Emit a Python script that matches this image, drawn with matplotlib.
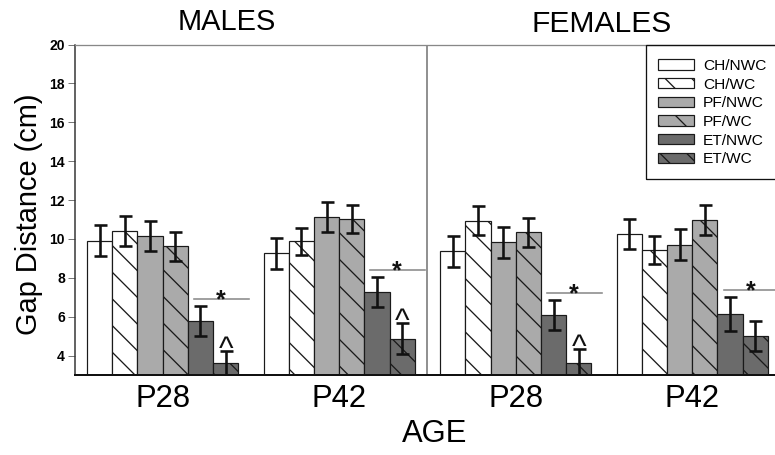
import matplotlib
matplotlib.use("Agg")
import matplotlib.pyplot as plt
from matplotlib.patches import Rectangle
import numpy as np

DPI = 80
W, H = 775, 455


def pt(px):
    return px * 72.0 / DPI


plt.rcParams["font.family"] = ["Liberation Sans", "DejaVu Sans"]
plt.rcParams["hatch.linewidth"] = pt(1.3)

# ---------------- data ----------------
panels = ["MALES", "FEMALES"]
ages = ["P28", "P42", "P28", "P42"]
series = ["CH/NWC", "CH/WC", "PF/NWC", "PF/WC", "ET/NWC", "ET/WC"]

ch_nwc = [9.90, 9.27, 9.37, 10.26]
ch_wc = [10.42, 9.87, 10.93, 9.44]
pf_nwc = [10.13, 11.12, 9.82, 9.70]
pf_wc = [9.61, 11.02, 10.35, 10.95]
et_nwc = [5.78, 7.28, 6.09, 6.14]
et_wc = [3.60, 4.87, 3.63, 5.02]

ch_nwc_err = [0.80, 0.80, 0.79, 0.76]
ch_wc_err = [0.77, 0.69, 0.74, 0.72]
pf_nwc_err = [0.77, 0.76, 0.78, 0.80]
pf_wc_err = [0.74, 0.74, 0.75, 0.77]
et_nwc_err = [0.77, 0.78, 0.77, 0.86]
et_wc_err = [0.65, 0.79, 0.69, 0.78]

star_groups = [0, 1, 2, 3]      # '*' : ET/NWC vs others
caret_groups = [0, 1, 2]        # '^' above ET/WC

values = [ch_nwc, ch_wc, pf_nwc, pf_wc, et_nwc, et_wc]
errors = [ch_nwc_err, ch_wc_err, pf_nwc_err, pf_wc_err, et_nwc_err, et_wc_err]

# ---------------- style ----------------
colors = ["white", "white", "#aaaaaa", "#aaaaaa", "#6b6b6b", "#6b6b6b"]
hatches = [None, "\\", None, "\\", None, "\\"]

fig = plt.figure(figsize=(W / DPI, H / DPI), dpi=DPI)
fig.patch.set_facecolor("white")
ax_left, ax_right, ax_top, ax_bottom = 75, 775, 44.5, 375
ax = fig.add_axes([ax_left / W, (H - ax_bottom) / H,
                   (ax_right - ax_left) / W, (ax_bottom - ax_top) / H])

group_starts = np.arange(len(ages)) * 7
bars = []
for i, (vals, errs) in enumerate(zip(values, errors)):
    x = group_starts + i + 0.5
    b = ax.bar(x, vals, width=1.0, color=colors[i], edgecolor="#1a1a1a",
               hatch=hatches[i], linewidth=pt(1.2), label=series[i], zorder=2)
    bars.append(b)
    ax.errorbar(x, vals, yerr=errs, fmt="none", ecolor="#111111",
                elinewidth=pt(2.6), capsize=pt(6.5), capthick=pt(2.6),
                zorder=3)

ax.set_xlim(-0.476, 27.28)
ax.set_ylim(3, 20)
ax.set_yticks(np.arange(4, 21, 2))
ax.tick_params(axis="y", direction="out", length=pt(7), width=pt(1),
               color="#777777", labelsize=pt(14), pad=pt(3))
for lab in ax.get_yticklabels():
    lab.set_fontweight("bold")

ax.set_xticks(group_starts + 3)
ax.set_xticklabels(ages, fontsize=pt(31))
ax.tick_params(axis="x", length=0, pad=pt(9))

ax.spines["right"].set_visible(False)
ax.spines["top"].set_color("#888888")
ax.spines["top"].set_linewidth(pt(1.3))
ax.spines["left"].set_color("#333333")
ax.spines["left"].set_linewidth(pt(1.5))
ax.spines["bottom"].set_color("#111111")
ax.spines["bottom"].set_linewidth(pt(2))

# panel divider
ax.axvline(13.5, color="#777777", lw=pt(1.6), zorder=1)

# significance marks
for g in star_groups:
    gs = group_starts[g]
    y = et_nwc[g] + et_nwc_err[g] + 0.35
    ax.plot([gs + 4.24, gs + 6.42], [y, y], color="#8a8a8a", lw=pt(1.6),
            zorder=2, clip_on=False)
    ax.text(gs + 5.3, y - 0.42, "*", ha="center", va="baseline",
            fontsize=pt(25), fontweight="bold", color="#111111")
for g in caret_groups:
    gs = group_starts[g]
    y = et_wc[g] + et_wc_err[g] - 0.36
    ax.text(gs + 5.5, y, "^", ha="center", va="baseline",
            fontsize=pt(31), color="#111111")

# legend (entries) + its frame, which runs off the right edge
leg = ax.legend(handles=bars, loc="upper left",
                bbox_to_anchor=(658 / W, (H - 59) / H),
                bbox_transform=fig.transFigure,
                fontsize=pt(15.5), frameon=False, borderpad=0,
                handlelength=2.35, handleheight=0.65, handletextpad=0.55,
                labelspacing=0.3, borderaxespad=0)
fig.add_artist(Rectangle((646 / W, (H - 179) / H), 200 / W, 134 / H,
                         transform=fig.transFigure, fill=False,
                         edgecolor="#111111", linewidth=pt(1.3)))

# titles and axis labels
fig.text(227 / W, 1 - 22 / H, panels[0], ha="center", va="center",
         fontsize=pt(29))
fig.text(602 / W, 1 - 24 / H, panels[1], ha="center", va="center",
         fontsize=pt(30))
fig.text(435 / W, 1 - 434 / H, "AGE", ha="center", va="center",
         fontsize=pt(31))
fig.text(29 / W, 1 - 214 / H, "Gap Distance (cm)", ha="center",
         va="center", rotation=90, fontsize=pt(29))

fig.savefig("out.png", dpi=DPI, facecolor="white")
